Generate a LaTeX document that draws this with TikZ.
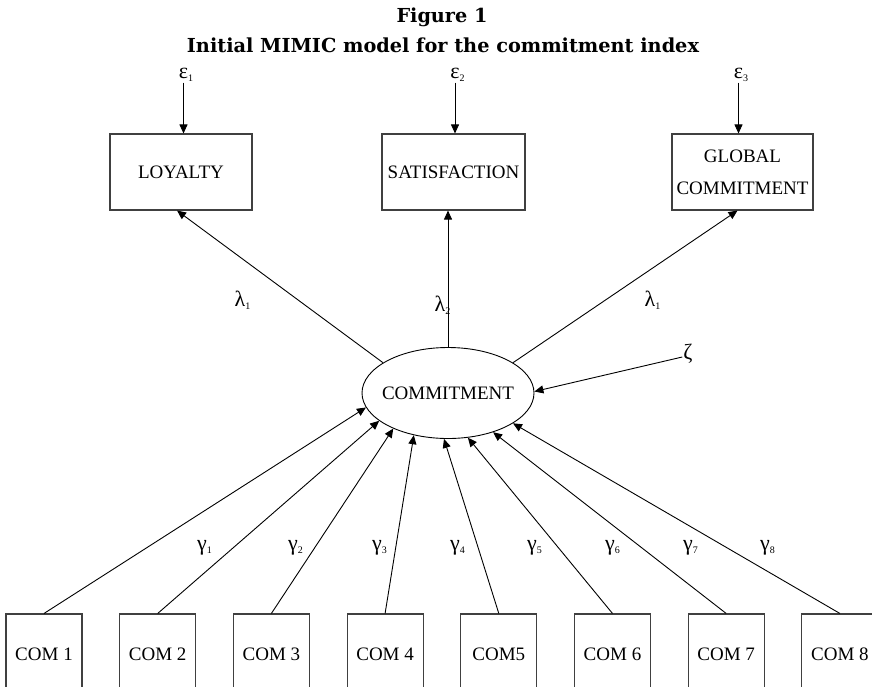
\documentclass[tikz,border=0pt]{standalone}
\usepackage{fontspec}
\setmainfont{Liberation Serif}
\newfontfamily\titlefont{DejaVu Serif}
\usetikzlibrary{arrows.meta,shapes.geometric}
\newcommand{\lblfont}{\fontsize{19}{22}\selectfont}
\newcommand{\gkfont}{\fontsize{22}{22}\selectfont}
\newcommand{\gk}[2]{#1\rlap{\raisebox{-2.5pt}{\fontsize{10}{10}\selectfont #2}}}
\begin{document}
\begin{tikzpicture}[x=1pt,y=-1pt,
  box/.style={draw=black!75, line width=1.1pt, inner sep=0pt, font=\lblfont},
  combox/.style={box, minimum width=76pt, minimum height=80pt},
  gklbl/.style={inner sep=1pt, font=\gkfont},
  arr/.style={line width=0.9pt, -{Triangle[length=9pt,width=8pt]}},
  plain/.style={line width=0.9pt}]
\useasboundingbox (0,0) rectangle (872,686);
\clip (0,0) rectangle (872,686);
% title
\node[anchor=base, inner sep=0pt] (t1) at (442,22) {\resizebox{91pt}{!}{\titlefont\bfseries Figure 1}};
\node[anchor=base, inner sep=0pt] (t2) at (443,52) {\resizebox{512pt}{!}{\titlefont\bfseries Initial MIMIC model for the commitment index}};
% indicator boxes
\node[box, minimum width=142pt, minimum height=76pt] (loy) at (181,172) {LOYALTY};
\node[box, minimum width=143pt, minimum height=76pt] (sat) at (453.5,172) {SATISFACTION};
\node[box, minimum width=141pt, minimum height=76pt, align=center] (glob) at (742.5,172) {GLOBAL\\[10pt]COMMITMENT};
% errors
\node[gklbl] (e1) at (183.5,75) {\gk{ε}{1}};
\node[gklbl] (e2) at (455,75) {\gk{ε}{2}};
\node[gklbl] (e3) at (738.5,75) {\gk{ε}{3}};
\draw[arr] (e1.south) -- (e1.south |- loy.north);
\draw[arr] (e2.south) -- (e2.south |- sat.north);
\draw[arr] (e3.south) -- (e3.south |- glob.north);
% latent
\node[draw, ellipse, line width=0.9pt, minimum width=172pt, minimum height=91pt, inner sep=0pt] (comm) at (448,393) {};
\node[font=\lblfont, inner sep=0pt] (commtxt) at (comm.center) {COMMITMENT};
\draw[arr] (comm.155) -- ([xshift=-4pt]loy.south);
\draw[arr] (comm.north) -- (comm.north |- sat.south);
\draw[arr] (comm.25) -- ([xshift=-5pt]glob.south);
\node[gklbl] (l1) at (240,300) {\gk{λ}{1}};
\node[gklbl] (l2) at (440,305) {\gk{λ}{2}};
\node[gklbl] (l3) at (650,300) {\gk{λ}{1}};
% disturbance
\node[gklbl] (zeta) at (688,354) {ζ};
\draw[arr] ([yshift=-3pt]zeta.west) -- (comm.1);
% causes
\node[combox] (c1) at (44,654) {COM 1};
\node[combox] (c2) at (157.7,654) {COM 2};
\node[combox] (c3) at (271.4,654) {COM 3};
\node[combox] (c4) at (385.1,654) {COM 4};
\node[combox] (c5) at (498.8,654) {COM5};
\node[combox] (c6) at (612.5,654) {COM 6};
\node[combox] (c7) at (726.2,654) {COM 7};
\node[combox] (c8) at (839.9,654) {COM 8};
\draw[arr] (c1.north) -- (comm.190);
\draw[arr] (c2.north) -- (comm.202.6);
\draw[arr] (c3.north) -- (comm.213.7);
\draw[arr] (c4.north) -- (comm.231.5);
\draw[arr] (c5.north) -- (comm.265);
\draw[arr] (c6.north) -- (comm.294.4);
\draw[arr] (c7.north) -- (comm.319.3);
\draw[arr] (c8.north) -- (comm.335.2);
\node[gklbl] (g1) at (202,548) {\gk{γ}{1}};
\node[gklbl] (g2) at (293,548) {\gk{γ}{2}};
\node[gklbl] (g3) at (377,548) {\gk{γ}{3}};
\node[gklbl] (g4) at (455,548) {\gk{γ}{4}};
\node[gklbl] (g5) at (532,548) {\gk{γ}{5}};
\node[gklbl] (g6) at (610,548) {\gk{γ}{6}};
\node[gklbl] (g7) at (688,548) {\gk{γ}{7}};
\node[gklbl] (g8) at (765,548) {\gk{γ}{8}};
\end{tikzpicture}
\end{document}
